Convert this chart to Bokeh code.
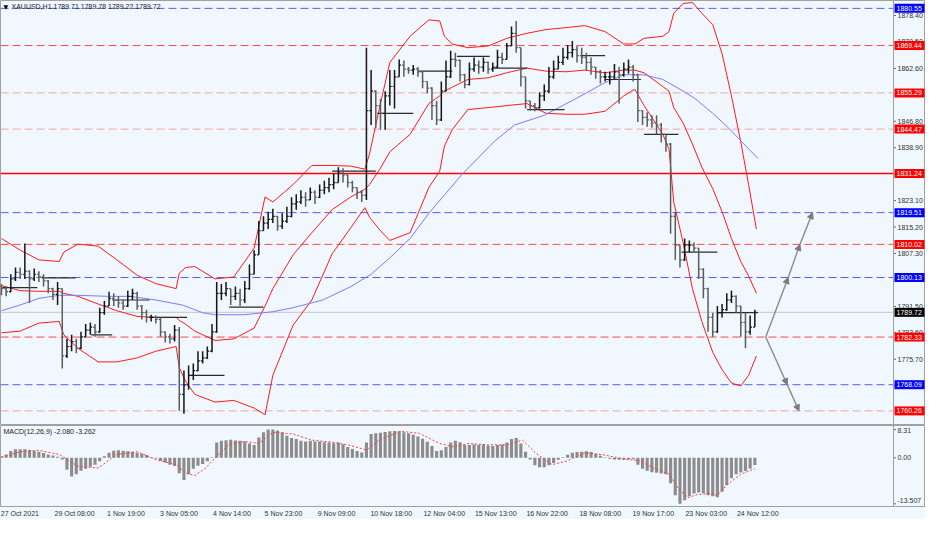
import numpy as np
from bokeh.plotting import figure
from bokeh.models import (Range1d, FixedTicker, Span, Label, Arrow, NormalHead, ColumnDataSource)
from bokeh.core.properties import value
from bokeh.layouts import column
from bokeh.embed import file_html
from bokeh.resources import INLINE

# ---------------- data ----------------
symbol_text = "XAUUSD,H1  1789.71 1789.78 1789.22 1789.72"
hours_per_bar = 3
first_open = 1797.5
closes = [
    1796.8, 1795.9, 1799.7, 1801.7, 1801.1, 1802.0, 1799.7, 1801.1, 1800.3, 1799.1,
    1796.8, 1795.1, 1796.8, 1776.7, 1779.5, 1781.0, 1779.0, 1782.4, 1784.4, 1785.3,
    1783.9, 1789.6, 1791.6, 1793.9, 1793.4, 1792.5, 1791.6, 1794.5, 1795.4, 1791.6,
    1789.6, 1788.2, 1788.2, 1787.6, 1783.9, 1782.4, 1781.8, 1784.4, 1765.2, 1768.0,
    1770.9, 1772.3, 1775.2, 1776.1, 1778.1, 1783.9, 1795.4, 1795.4, 1796.8, 1794.5,
    1795.4, 1793.4, 1796.8, 1801.1, 1806.9, 1814.1, 1816.4, 1817.5, 1818.4, 1815.5,
    1817.0, 1818.4, 1822.1, 1822.7, 1824.1, 1823.3, 1825.6, 1824.1, 1826.2, 1827.0,
    1827.9, 1828.5, 1831.3, 1830.8, 1828.5, 1827.0, 1825.6, 1824.7, 1850.0, 1855.8,
    1851.5, 1849.2, 1854.4, 1857.2, 1860.1, 1863.6, 1862.4, 1862.1, 1862.4, 1861.6,
    1858.7, 1856.7, 1851.5, 1847.2, 1855.8, 1860.1, 1865.3, 1865.0, 1860.7, 1857.8,
    1862.4, 1863.6, 1863.0, 1864.4, 1862.4, 1863.0, 1865.9, 1865.3, 1869.3, 1873.1,
    1868.8, 1860.1, 1852.9, 1851.5, 1850.9, 1854.4, 1855.8, 1860.1, 1862.4, 1864.4,
    1865.9, 1867.3, 1868.2, 1866.4, 1865.9, 1864.4, 1863.0, 1861.6, 1860.1, 1860.1,
    1860.1, 1861.6, 1860.7, 1862.4, 1863.0, 1860.7, 1850.0, 1848.0, 1847.2, 1846.3,
    1845.7, 1842.9, 1840.0, 1818.4, 1809.8, 1805.4, 1809.8, 1809.8, 1808.9, 1802.6,
    1796.8, 1788.2, 1783.9, 1789.6, 1790.5, 1793.4, 1794.5, 1791.6, 1786.7, 1783.9,
    1785.3, 1789.72]
highs = [
    1798.2, 1797.4, 1801.1, 1803.1, 1803.1, 1810.3, 1802.3, 1802.8, 1802.0, 1801.1,
    1799.4, 1797.1, 1798.8, 1796.8, 1781.8, 1783.0, 1781.8, 1783.9, 1786.2, 1786.7,
    1786.2, 1791.1, 1793.1, 1795.9, 1795.4, 1794.5, 1793.4, 1796.2, 1796.8, 1795.9,
    1791.9, 1790.5, 1789.0, 1788.8, 1788.2, 1783.9, 1783.3, 1785.9, 1785.3, 1772.3,
    1773.8, 1774.4, 1778.1, 1778.1, 1779.5, 1786.2, 1798.8, 1798.2, 1798.8, 1796.8,
    1797.4, 1796.8, 1799.1, 1804.0, 1808.3, 1817.0, 1818.4, 1819.8, 1820.7, 1818.4,
    1819.3, 1821.3, 1824.1, 1825.0, 1826.2, 1825.6, 1827.0, 1826.2, 1827.9, 1829.0,
    1829.9, 1831.3, 1833.1, 1832.8, 1830.8, 1829.0, 1827.0, 1826.2, 1868.8, 1862.1,
    1856.1, 1853.5, 1855.8, 1862.1, 1862.1, 1865.3, 1865.0, 1863.0, 1863.6, 1863.0,
    1861.8, 1858.7, 1857.0, 1852.9, 1858.7, 1865.0, 1867.9, 1867.3, 1865.3, 1861.0,
    1864.4, 1865.9, 1865.0, 1865.9, 1864.7, 1864.4, 1868.2, 1867.3, 1870.2, 1875.1,
    1876.8, 1868.8, 1860.1, 1852.9, 1852.3, 1855.5, 1857.8, 1863.0, 1865.0, 1866.4,
    1868.8, 1869.6, 1870.8, 1869.3, 1868.8, 1867.3, 1865.9, 1863.0, 1862.1, 1861.6,
    1861.6, 1863.9, 1863.0, 1864.4, 1865.3, 1863.6, 1861.0, 1850.0, 1849.5, 1848.6,
    1848.6, 1846.3, 1842.9, 1840.3, 1819.8, 1809.8, 1811.8, 1811.2, 1810.6, 1808.9,
    1802.9, 1797.1, 1789.6, 1791.6, 1792.2, 1795.4, 1796.2, 1794.8, 1791.6, 1789.6,
    1788.8, 1790.5]
lows = [
    1794.8, 1794.5, 1795.7, 1799.1, 1799.7, 1799.7, 1792.5, 1799.1, 1798.8, 1797.4,
    1795.4, 1793.4, 1791.9, 1772.9, 1776.1, 1778.1, 1777.5, 1778.7, 1782.4, 1783.0,
    1782.4, 1783.6, 1789.0, 1791.6, 1791.6, 1791.1, 1790.5, 1791.3, 1793.4, 1790.5,
    1787.6, 1786.7, 1787.0, 1786.4, 1782.4, 1780.7, 1780.4, 1781.0, 1760.3, 1759.4,
    1766.6, 1769.5, 1772.1, 1774.4, 1775.8, 1777.8, 1783.6, 1793.4, 1794.5, 1791.9,
    1793.4, 1791.6, 1792.5, 1796.5, 1801.1, 1806.9, 1814.1, 1814.6, 1816.4, 1814.1,
    1814.6, 1816.4, 1818.1, 1820.4, 1822.1, 1821.3, 1823.3, 1822.1, 1823.9, 1825.0,
    1825.6, 1826.5, 1828.5, 1828.5, 1827.0, 1825.6, 1823.6, 1822.7, 1823.3, 1845.7,
    1844.9, 1844.3, 1844.3, 1851.5, 1850.6, 1860.1, 1860.1, 1861.0, 1860.7, 1860.1,
    1856.7, 1855.2, 1847.2, 1845.7, 1846.9, 1855.8, 1859.8, 1863.0, 1858.7, 1856.7,
    1857.5, 1861.6, 1861.0, 1861.6, 1861.0, 1861.6, 1862.7, 1863.9, 1865.3, 1869.3,
    1867.3, 1857.2, 1850.6, 1850.0, 1849.8, 1850.6, 1852.9, 1855.2, 1859.5, 1862.4,
    1863.6, 1865.3, 1865.9, 1864.4, 1863.9, 1862.1, 1860.7, 1859.5, 1858.1, 1858.7,
    1857.8, 1859.5, 1852.1, 1860.1, 1861.0, 1858.7, 1846.6, 1845.7, 1845.2, 1844.9,
    1842.9, 1840.5, 1837.7, 1813.2, 1805.4, 1803.1, 1805.1, 1807.7, 1807.5, 1799.7,
    1793.9, 1783.9, 1782.4, 1783.6, 1788.2, 1790.2, 1792.5, 1789.6, 1782.4, 1779.0,
    1783.0, 1785.3]

band_t = [0, 12, 24, 37, 40, 49, 62, 74, 87, 99, 112, 114, 118, 124, 137, 149, 162, 169, 174, 187,
          199, 212, 224, 233, 236, 243, 249, 262, 274, 281, 284, 289, 299, 312, 324, 337, 349, 362, 374, 387,
          399, 406, 412, 424, 428, 431, 437, 443, 449, 456, 462, 468, 474, 479, 484]
bb_upper = [1811.8, 1808.3, 1805.4, 1804.9, 1807.7, 1810.1, 1809.5, 1805.4, 1800.8, 1798.3,
            1796.8, 1801.4, 1803.1, 1803.4, 1799.7, 1800.3, 1808.9, 1824.2, 1822.7, 1827.9,
            1833.6, 1833.6, 1833.4, 1832.5, 1837.1, 1852.1, 1864.4, 1872.2, 1877.1, 1876.8,
            1872.2, 1869.9, 1868.8, 1869.3, 1871.6, 1873.1, 1874.2, 1874.8, 1875.4, 1873.6,
            1869.9, 1869.9, 1871.6, 1872.2, 1873.6, 1879.1, 1882.0, 1882.3, 1879.1, 1875.7,
            1867.0, 1854.4, 1840.6, 1827.9, 1814.6]
bb_middle = [1797.7, 1796.2, 1796.0, 1796.0, 1795.4, 1794.5, 1792.2, 1790.2, 1788.5, 1788.2,
             1788.2, 1787.3, 1786.2, 1784.1, 1781.3, 1781.8, 1785.0, 1791.6, 1796.8, 1806.9,
             1813.5, 1820.4, 1824.2, 1826.5, 1827.9, 1832.8, 1837.7, 1842.9, 1852.1, 1854.4,
             1855.8, 1857.0, 1859.3, 1859.8, 1861.3, 1862.7, 1861.8, 1861.6, 1862.1, 1861.3,
             1862.1, 1862.1, 1861.3, 1857.2, 1855.8, 1850.9, 1846.3, 1840.0, 1833.1, 1826.7,
             1819.8, 1811.8, 1804.9, 1800.6, 1795.4]
bb_lower = [1783.6, 1784.1, 1786.5, 1787.0, 1783.0, 1779.0, 1774.9, 1774.9, 1776.1, 1778.1,
            1779.5, 1773.2, 1769.2, 1765.2, 1762.9, 1763.4, 1761.1, 1759.1, 1770.9, 1785.9,
            1793.4, 1807.2, 1815.0, 1821.0, 1818.1, 1814.1, 1811.2, 1813.5, 1827.0, 1831.9,
            1839.4, 1844.3, 1850.3, 1850.9, 1851.5, 1852.1, 1849.2, 1848.9, 1848.9, 1849.8,
            1854.4, 1856.4, 1851.5, 1842.9, 1838.5, 1822.7, 1810.6, 1796.8, 1787.0, 1777.8,
            1772.6, 1768.6, 1767.7, 1770.9, 1776.7]

ma_t = [0, 12, 24, 37, 49, 68, 82, 99, 116, 129, 137, 156, 174, 187, 206, 224, 237, 249, 262, 274,
        295, 316, 329, 348, 368, 387, 399, 412, 424, 435, 445, 456, 466, 476, 485]
ma_values = [1790.2, 1791.9, 1793.9, 1794.8, 1794.8, 1794.5, 1794.5, 1793.4, 1791.9, 1789.6,
             1789.0, 1789.0, 1789.9, 1791.1, 1793.4, 1797.4, 1801.1, 1806.0, 1811.8, 1819.3,
             1830.8, 1840.8, 1845.7, 1848.6, 1853.5, 1858.4, 1860.7, 1860.7, 1859.3, 1856.4,
             1853.5, 1849.2, 1844.9, 1840.0, 1835.7]

daily_start = [0.6, 26, 57.5, 71, 95, 121, 146, 212, 241, 267, 292, 315, 337, 372, 387, 412, 436, 459]
daily_end = [23, 47.5, 71, 95, 119, 143, 168, 240, 264, 289, 313, 337, 361, 387, 410, 434, 459, 485]
daily_level = [1797.1, 1800.0, 1783.0, 1793.4, 1788.2, 1770.9, 1791.3, 1831.9, 1849.2, 1861.8,
               1866.2, 1862.7, 1850.3, 1866.4, 1859.3, 1842.9, 1807.7, 1789.6]

level_prices = [1880.55, 1869.44, 1855.29, 1844.47, 1831.24, 1819.51, 1810.02, 1800.13, 1782.33, 1768.09, 1760.26]
level_kinds = ["blue", "red", "pink", "pink", "solid", "blue", "red", "blue", "red", "blue", "pink"]
current_price = 1789.72

up_path_t = [490, 504.4, 511.9, 520.0]
up_path_price = [1782.33, 1800.13, 1810.02, 1819.51]
down_path_t = [490, 503.8, 511.3]
down_path_price = [1782.33, 1768.09, 1760.26]

macd_hist = [
    0.4, 1.0, 2.0, 2.5, 2.5, 2.5, 2.3, 2.0, 1.8, 1.4,
    1.0, 0.7, 0.3, -0.5, -3.5, -5.5, -4.8, -3.8, -3.2, -2.6,
    -2.0, -1.0, 0.5, 1.5, 2.1, 2.2, 2.1, 1.9, 1.8, 1.5,
    1.2, 0.8, 0.2, -0.2, -0.9, -1.4, -2.0, -2.4, -4.5, -6.5,
    -4.8, -3.2, -2.3, -1.8, -1.0, 0.2, 4.5, 5.0, 5.2, 5.3,
    5.1, 5.0, 4.8, 4.2, 3.8, 6.0, 7.5, 8.3, 8.3, 8.0,
    7.5, 6.5, 5.8, 5.5, 5.0, 4.8, 5.0, 4.8, 4.8, 4.6,
    4.5, 4.3, 4.5, 4.0, 3.2, 2.6, 2.0, 1.6, 4.5, 7.0,
    7.2, 7.4, 7.6, 7.8, 7.9, 7.8, 7.5, 7.2, 6.8, 6.3,
    5.6, 4.7, 3.5, 2.0, 2.2, 3.2, 4.5, 5.0, 4.6, 3.8,
    3.8, 3.9, 3.8, 3.9, 3.6, 3.5, 3.8, 3.9, 4.5, 5.5,
    5.8, 4.2, 1.8, -0.5, -2.2, -2.8, -2.8, -2.2, -1.5, -0.6,
    0.2, 0.9, 1.5, 1.7, 1.8, 1.9, 1.7, 1.2, 0.6, 0.2,
    -0.3, -0.5, -0.6, -0.6, -0.5, -0.4, -2.0, -3.2, -3.8, -4.2,
    -4.4, -4.6, -4.8, -7.5, -11.0, -13.5, -12.5, -11.3, -10.5, -10.2,
    -10.4, -11.0, -11.3, -11.6, -10.0, -8.0, -6.0, -4.8, -4.3, -3.9,
    -3.2, -2.08]
signal_t = [0, 12, 24, 37, 49, 62, 74, 87, 99, 112, 118, 124, 131, 137, 146, 156, 165, 174, 187, 199,
            212, 224, 234, 243, 256, 268, 281, 290, 299, 312, 324, 334, 343, 353, 362, 374, 387, 399, 409, 418,
            428, 434, 440, 446, 454, 459, 465, 474, 483]
signal_values = [0.2, 1.8, 2.2, 1.0, -2.5, -3.0, 1.0, 1.8, -0.5, -2.0,
                 -4.5, -5.2, -3.0, 0.0, 4.0, 4.8, 4.2, 7.5, 7.0, 5.2,
                 4.6, 3.6, 2.3, 5.5, 7.8, 7.2, 4.2, 3.2, 4.2, 3.8,
                 3.8, 5.2, 1.2, -2.0, -1.0, 1.5, 0.8, -0.4, -0.8, -3.0,
                 -4.8, -9.0, -11.7, -10.8, -10.5, -11.0, -8.0, -4.8, -3.262]
macd_text = "MACD(12,26,9) -2.080 -3.262"
macd_ticks = [8.31, 0.0, -13.507]
macd_tick_labels = ["8.31", "0.00", "-13.507"]

time_ticks = [0, 34, 68, 102, 136, 169, 203, 237, 271, 304, 337, 371, 405, 439, 472]
time_labels = ["27 Oct 2021", "29 Oct 08:00", "1 Nov 19:00", "3 Nov 05:00", "4 Nov 14:00",
               "5 Nov 23:00", "9 Nov 09:00", "10 Nov 18:00", "12 Nov 04:00", "15 Nov 13:00",
               "16 Nov 22:00", "18 Nov 08:00", "19 Nov 17:00", "23 Nov 03:00", "24 Nov 12:00"]
price_ticks = [1878.40, 1870.50, 1862.60, 1854.70, 1846.80, 1838.90, 1831.00, 1823.10,
               1815.20, 1807.30, 1799.40, 1791.50, 1783.60, 1775.70, 1767.80]

# ---------------- layout / styling ----------------
W = 925
PLOT_W = 893                 # pixels of the chart area left of the price scale
T0, T_SPAN = -0.6, 572.5     # visible bar span of the chart area
px_per_t = PLOT_W / T_SPAN
axis_t = T0 + T_SPAN
xr = Range1d(T0, T0 + W / px_per_t)
yr = Range1d(1755.9, 1882.9)
BG = "#f0f7fe"
EDGE = "#a0a0a0"
FONT = "Liberation Sans"
FS = value("7px")

line_style = {
    "blue": dict(line_color="#5a5af0", line_dash="8 4", line_width=1),
    "red": dict(line_color="#ff4a4a", line_dash="8 4", line_width=1),
    "pink": dict(line_color="#f3a5a5", line_dash="8 4", line_width=1),
    "solid": dict(line_color="#ff0000", line_width=1.5),
}
box_color = {"blue": "#0000ff", "red": "#ff0000", "pink": "#ff0000", "solid": "#ff0000"}


def price_scale(fig, ticks, labels, y_offsets=None):
    """MT4-like price scale drawn at the right edge of the chart area."""
    fig.add_layout(Span(location=axis_t, dimension="height", line_color=EDGE, line_width=1))
    fig.segment(x0=[axis_t] * len(ticks), y0=ticks, x1=[axis_t + 2.5 / px_per_t] * len(ticks), y1=ticks,
                line_color="#666666", line_width=1)
    fig.text(x=[axis_t] * len(ticks), y=ticks, text=labels, x_offset=4,
             y_offset=y_offsets if y_offsets is not None else 0,
             text_font=value(FONT), text_font_size=FS, text_color="#333333",
             text_baseline="middle", text_align="left")


# ---------------- price panel ----------------
p = figure(width=W, height=425, x_range=xr, y_range=yr, output_backend="svg",
           toolbar_location=None, x_axis_location=None, y_axis_location=None, min_border=0)
p.background_fill_color = BG
p.border_fill_color = BG
p.outline_line_color = EDGE
p.grid.visible = False

for kind, style in line_style.items():
    ys = [pr for pr, k in zip(level_prices, level_kinds) if k == kind]
    p.segment(x0=[T0] * len(ys), y0=ys, x1=[axis_t] * len(ys), y1=ys, **style)
p.segment(x0=[T0], y0=[current_price], x1=[axis_t], y1=[current_price], line_color="#c4c4c4", line_width=1)

p.line(band_t, bb_upper, line_color="#ff1a1a", line_width=1)
p.line(band_t, bb_middle, line_color="#ff1a1a", line_width=1)
p.line(band_t, bb_lower, line_color="#ff1a1a", line_width=1)
p.line(ma_t, ma_values, line_color="#7c7cff", line_width=1)

p.segment(x0=daily_start, y0=daily_level, x1=daily_end, y1=daily_level,
          line_color="#2b2b2b", line_width=1.2)

t = np.arange(len(closes)) * hours_per_bar
opens = [first_open] + closes[:-1]
cols = ["#151515" if c >= o else "#5c5c5c" for o, c in zip(opens, closes)]
src = ColumnDataSource(dict(t=t, tl=t - 1.2, tr=t + 1.2, o=opens, h=highs, l=lows, c=closes, col=cols))
p.segment("t", "l", "t", "h", source=src, line_color="col", line_width=1.5)
p.segment("tl", "o", "t", "o", source=src, line_color="col", line_width=1.2)
p.segment("t", "c", "tr", "c", source=src, line_color="col", line_width=1.2)

for path_t, path_p in ((up_path_t, up_path_price), (down_path_t, down_path_price)):
    for i in range(len(path_t) - 1):
        p.add_layout(Arrow(end=NormalHead(size=6, fill_color="#7a7a7a", line_color="#7a7a7a"),
                           x_start=path_t[i], y_start=path_p[i], x_end=path_t[i + 1], y_end=path_p[i + 1],
                           line_color="#8a8a8a", line_width=1.4))

price_scale(p, price_ticks, [f"{v:.2f}" for v in price_ticks])

box_prices = level_prices + [current_price]
box_colors = [box_color[k] for k in level_kinds] + ["#000000"]
p.rect(x=[axis_t + 16 / px_per_t] * len(box_prices), y=box_prices, width=30, height=9,
       width_units="screen", height_units="screen", fill_color=box_colors, line_color=None)
p.text(x=[axis_t] * len(box_prices), y=box_prices, text=[f"{v:.2f}" for v in box_prices], x_offset=3,
       text_font=value(FONT), text_font_size=FS, text_color="white",
       text_baseline="middle", text_align="left")

p.add_layout(Label(x=xr.start, y=yr.end, x_offset=3, y_offset=-6, text="\u25bc", text_font="DejaVu Sans",
                   text_font_size="6px", text_color="#000000", text_baseline="middle"))
p.add_layout(Label(x=xr.start, y=yr.end, x_offset=11, y_offset=-6, text=symbol_text, text_font=FONT,
                   text_font_size="7px", text_color="#222222", text_baseline="middle"))

# ---------------- MACD panel ----------------
m = figure(width=W, height=94, x_range=xr, y_range=Range1d(-14.3, 9.5), output_backend="svg",
           toolbar_location=None, x_axis_location="below", y_axis_location=None, min_border=0)
m.background_fill_color = BG
m.border_fill_color = BG
m.outline_line_color = EDGE
m.grid.visible = False

m.vbar(x=t, top=macd_hist, bottom=0, width=2.0, fill_color="#8c8c8c", line_color=None)
m.line(signal_t, signal_values, line_color="#ff3b3b", line_width=1, line_dash="2 2")
m.add_layout(Label(x=xr.start, y=9.5, x_offset=3, y_offset=-6, text=macd_text, text_font=FONT,
                   text_font_size="7px", text_color="#222222", text_baseline="middle"))
price_scale(m, macd_ticks, macd_tick_labels, y_offsets=[1, 0, -3])

centers = [tk + len(lb) * 3.35 / 2 / px_per_t for tk, lb in zip(time_ticks, time_labels)]
mx = m.xaxis[0]
mx.ticker = FixedTicker(ticks=centers)
mx.major_label_overrides = {c: lb for c, lb in zip(centers, time_labels)}
mx.major_label_text_font_size = "7px"
mx.major_label_text_font = FONT
mx.major_label_text_color = "#333333"
mx.axis_line_color = EDGE
mx.major_tick_out = 0
mx.major_tick_in = 0
mx.minor_tick_line_color = None
mx.major_label_standoff = 3

layout = column(p, m)
open("out.html", "w").write(file_html(layout, INLINE))
